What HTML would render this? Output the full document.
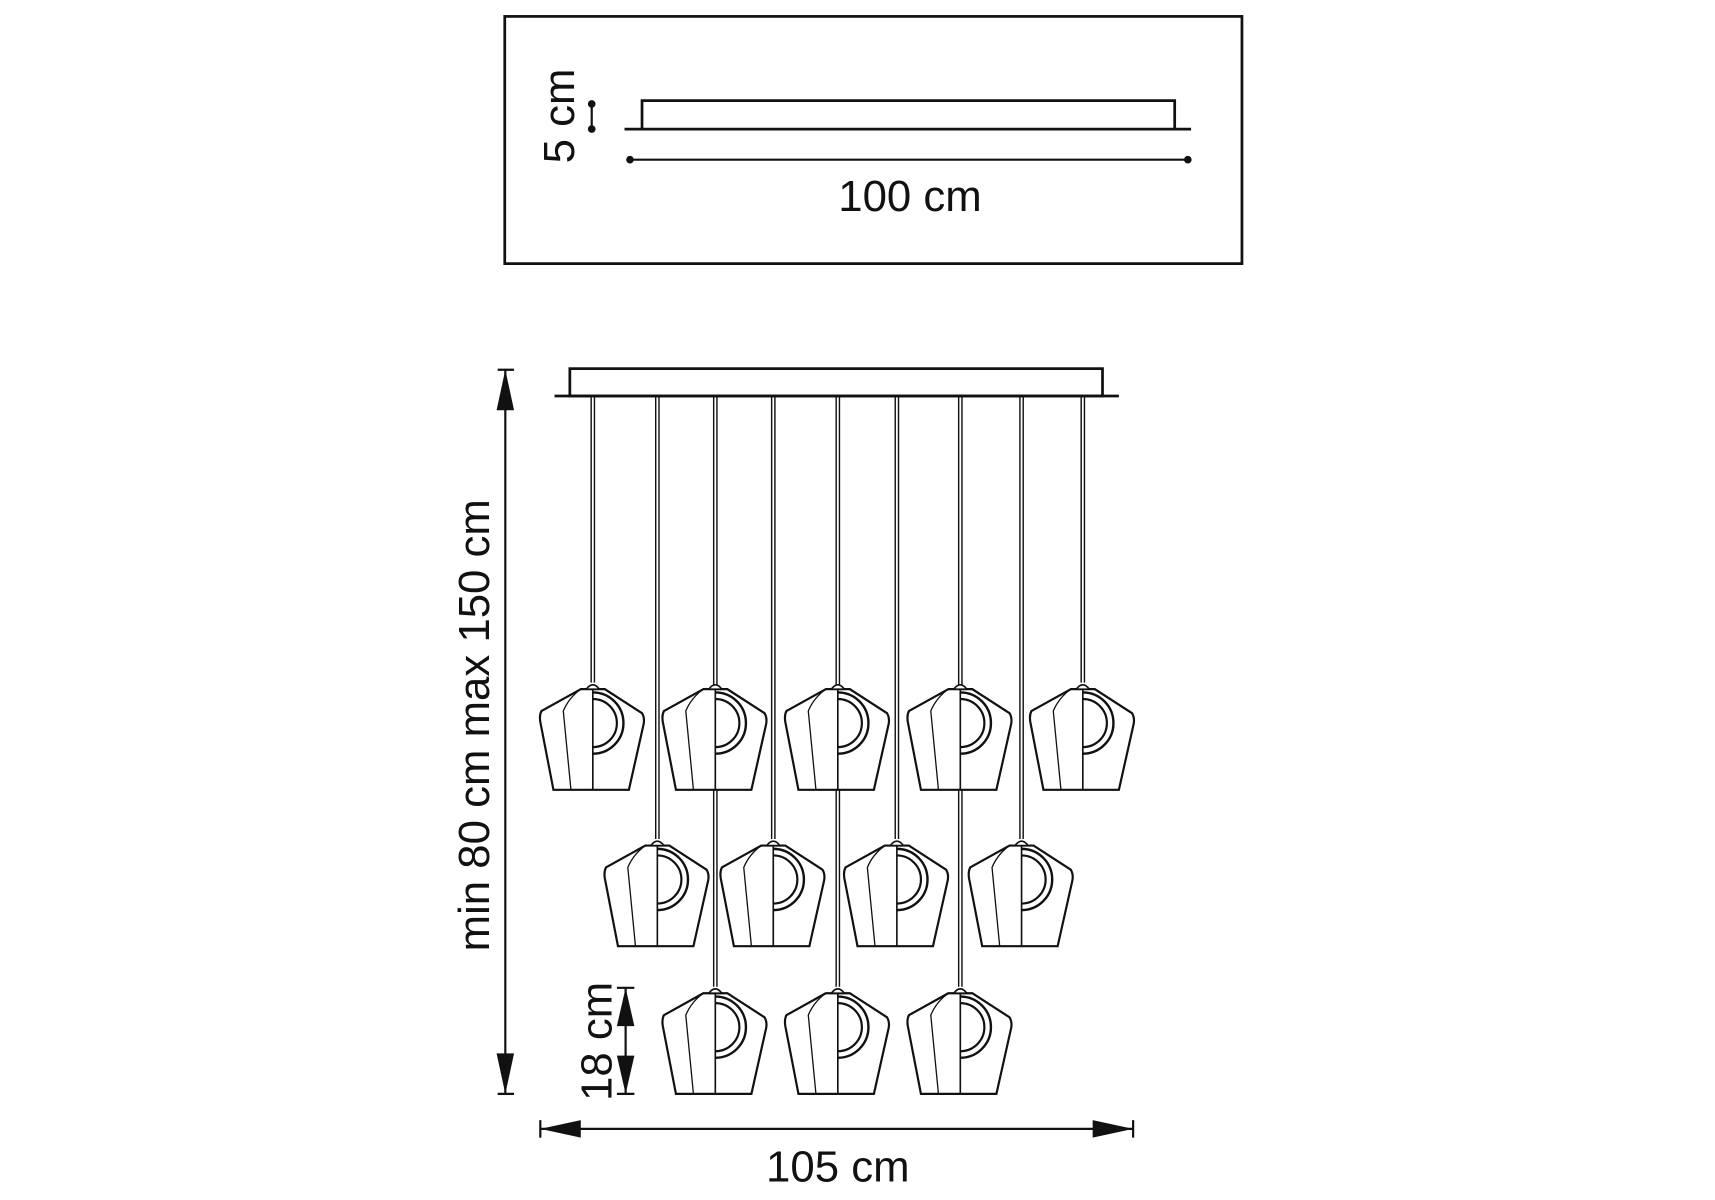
<!DOCTYPE html>
<html><head><style>html,body{margin:0;padding:0;background:#fff}svg{display:block}</style></head><body>
<svg width="1715" height="1200" viewBox="0 0 1568 1097" preserveAspectRatio="none" xmlns="http://www.w3.org/2000/svg">
<defs>
<g id="p">
  <path d="M-11,6 L-47,26 Q-49,30 -48,36 L-36,98 L33,98 L46,40 Q48,33 45,28 L11,6 Z" fill="#fff" stroke="#111" stroke-width="2"/>
  <path d="M-11,6 Q-22,14 -27,26 L-20,98" fill="none" stroke="#111" stroke-width="1.2"/>
  <line x1="0" y1="6" x2="0" y2="98" stroke="#111" stroke-width="1.5"/>
  <path d="M0,9 A28,28 0 0 1 0,65" fill="none" stroke="#111" stroke-width="2.2"/>
  <path d="M0,15 A22,22 0 0 1 0,59" fill="none" stroke="#111" stroke-width="2"/>
  <path d="M-6,6 Q0,-2 6,6 Z" fill="#fff" stroke="#111" stroke-width="1.5"/>
</g>
</defs>
<g stroke="#111" fill="none">
<rect x="461.5" y="15" width="674" height="226" stroke-width="2.5"/>
<path d="M587,118 V92 H1074 V118" stroke-width="2.5"/>
<line x1="571" y1="118" x2="1089" y2="118" stroke-width="2.5"/>
<line x1="576" y1="146" x2="1086" y2="146" stroke-width="2"/>
<line x1="541" y1="95" x2="541" y2="118" stroke-width="2"/>
</g>
<g fill="#111">
<circle cx="576" cy="146" r="3.5"/><circle cx="1086" cy="146" r="3.5"/>
<circle cx="541" cy="95" r="3.5"/><circle cx="541" cy="118" r="3.5"/>
</g>
<g font-family="Liberation Sans, sans-serif" font-size="40" fill="#111">
<text x="832" y="193" text-anchor="middle">100 cm</text>
<text transform="translate(525,106) rotate(-90)" text-anchor="middle">5 cm</text>
<text transform="translate(447,663) rotate(-90)" text-anchor="middle">min 80 cm max 150 cm</text>
<text transform="translate(559,952) rotate(-90)" text-anchor="middle">18 cm</text>
<text x="766" y="1080" text-anchor="middle">105 cm</text>
</g>
<!-- canopy -->
<g stroke="#111" fill="none">
<rect x="521" y="337" width="487" height="25" stroke-width="2.5"/>
<line x1="507" y1="362" x2="1023" y2="362" stroke-width="2.5"/>
</g>
<!-- rods -->
<g stroke="#111" stroke-width="1.3">
<path d="M540.5,363V624M543.5,363V624 M988.5,363V624M991.5,363V624
M599.5,363V767M602.5,363V767 M705.5,363V767M708.5,363V767 M818.5,363V767M821.5,363V767 M932.5,363V767M935.5,363V767
M652.5,363V902M655.5,363V902 M764.5,363V902M767.5,363V902 M876.5,363V902M879.5,363V902"/>
</g>
<use href="#p" x="542" y="624"/><use href="#p" x="654" y="624"/><use href="#p" x="766" y="624"/><use href="#p" x="878" y="624"/><use href="#p" x="990" y="624"/>
<use href="#p" x="601" y="767"/><use href="#p" x="707" y="767"/><use href="#p" x="820" y="767"/><use href="#p" x="934" y="767"/>
<use href="#p" x="654" y="902"/><use href="#p" x="766" y="902"/><use href="#p" x="878" y="902"/>
<!-- dimensions -->
<g stroke="#111" stroke-width="2" fill="none">
<line x1="462" y1="338" x2="462" y2="1000"/>
<line x1="455" y1="338" x2="470" y2="338"/><line x1="455" y1="1000" x2="470" y2="1000"/>
<line x1="572" y1="903" x2="572" y2="1000"/>
<line x1="564" y1="903" x2="580" y2="903"/><line x1="564" y1="1000" x2="580" y2="1000"/>
<line x1="494" y1="1032" x2="1036" y2="1032"/>
<line x1="494" y1="1024" x2="494" y2="1040"/><line x1="1036" y1="1024" x2="1036" y2="1040"/>
</g>
<g fill="#111">
<path d="M462,338 L454,375 L470,375 Z"/><path d="M462,1000 L454,963 L470,963 Z"/>
<path d="M572,903 L564,938 L580,938 Z"/><path d="M572,1000 L564,965 L580,965 Z"/>
<path d="M494,1032 L531,1024 L531,1040 Z"/><path d="M1036,1032 L999,1024 L999,1040 Z"/>
</g>
</svg>
</body></html>
